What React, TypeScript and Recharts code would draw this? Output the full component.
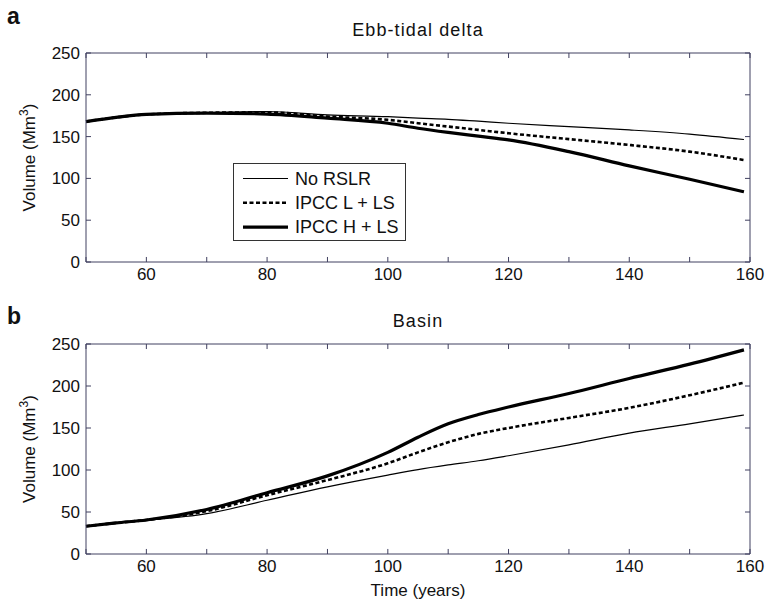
import React from 'react';
import { LineChart, Line, XAxis, YAxis, Legend, ReferenceLine } from 'recharts';

// model years (x) shared by both panels
const years = [50, 55, 60, 70, 80, 90, 100, 105, 110, 115, 120, 130, 140, 150, 159];

// (a) ebb-tidal delta volume, Mm3
const deltaNoRslr = [168, 173, 176.5, 178.5, 180, 176, 173.8, 172, 170.7, 168.4, 166, 162, 158, 153, 146.5];
const deltaIpccL = [168, 173, 176.5, 178.5, 179, 174, 170, 166, 162, 158, 154, 147, 140, 132, 122];
const deltaIpccH = [168, 173, 176.5, 178, 177, 172, 166, 160, 155, 150.5, 146, 132, 115, 99, 84];

// (b) basin volume, Mm3
const basinNoRslr = [33, 37, 40, 48, 64, 80, 94, 100.5, 106, 111, 117, 130, 144, 155, 165.5];
const basinIpccL = [33, 37, 40.5, 51, 70, 88, 108, 121, 133, 143, 150, 162, 174, 189, 204];
const basinIpccH = [33, 37, 40.5, 53, 73, 93, 121, 139, 155, 166, 175, 191, 209, 226, 243];

const seriesNames = ['No RSLR', 'IPCC L + LS', 'IPCC H + LS'];
const xTicks = [50, 60, 70, 80, 90, 100, 110, 120, 130, 140, 150, 160];
const yTicks = [0, 50, 100, 150, 200, 250];
const X_MIN = 50;
const X_MAX = 160;
const Y_MIN = 0;
const Y_MAX = 250;

const FONT = '"Liberation Sans", Arial, Helvetica, sans-serif';
const AXIS = '#404060';
// inward tick length expressed in data units (~5px)
const TICK_X = 0.83;
const TICK_Y = 6;

const lineStyles = [
  { key: 'noRslr', width: 1.2, dash: undefined },
  { key: 'ipccL', width: 2.6, dash: '4 2.5' },
  { key: 'ipccH', width: 3.2, dash: undefined },
];

const makeRows = (a: number[], b: number[], c: number[]) =>
  years.map((year, i) => ({ year, noRslr: a[i], ipccL: b[i], ipccH: c[i] }));

const xLabel = (v: number) => (v % 20 === 0 && v > 50 ? String(v) : '');

const LegendBox = () => (
  <svg width={174} height={79} style={{ display: 'block' }}>
    <rect x={0.5} y={0.5} width={172} height={77} fill="#fff" stroke="#333" />
    {seriesNames.map((name, i) => {
      const cy = 15.5 + i * 24.3;
      return (
        <g key={name}>
          <line
            x1={10}
            x2={55}
            y1={cy}
            y2={cy}
            stroke="#000"
            strokeWidth={lineStyles[i].width}
            strokeDasharray={lineStyles[i].dash}
          />
          <text x={62} y={cy} dominantBaseline="central" fontSize={18} fill="#111" fontFamily={FONT}>
            {name}
          </text>
        </g>
      );
    })}
  </svg>
);

const VolumeLabel = (props: any) => {
  const vb = props.viewBox || {};
  const cx = vb.x - 1;
  const cy = vb.y + vb.height / 2;
  return (
    <text
      x={cx}
      y={cy}
      transform={`rotate(-90 ${cx} ${cy})`}
      textAnchor="middle"
      fontSize={17}
      fill="#111"
    >
      Volume (Mm<tspan dy={-7} fontSize={12}>3</tspan>
      <tspan dy={7}>)</tspan>
    </text>
  );
};

// top and right sides of the box
const frameLines = () => [
  <ReferenceLine key="ft" xAxisId="bottom" yAxisId="left" y={Y_MAX} stroke={AXIS} />,
  <ReferenceLine key="fr" xAxisId="bottom" yAxisId="left" x={X_MAX} stroke={AXIS} />,
];

// inward ticks on all four sides
const tickSegments = () => [
  ...xTicks.map((t) => (
    <ReferenceLine
      key={`xb${t}`}
      xAxisId="bottom"
      yAxisId="left"
      segment={[{ x: t, y: Y_MIN }, { x: t, y: Y_MIN + TICK_Y }]}
      stroke={AXIS}
    />
  )),
  ...xTicks.map((t) => (
    <ReferenceLine
      key={`xt${t}`}
      xAxisId="bottom"
      yAxisId="left"
      segment={[{ x: t, y: Y_MAX }, { x: t, y: Y_MAX - TICK_Y }]}
      stroke={AXIS}
    />
  )),
  ...yTicks.map((t) => (
    <ReferenceLine
      key={`yl${t}`}
      xAxisId="bottom"
      yAxisId="left"
      segment={[{ x: X_MIN, y: t }, { x: X_MIN + TICK_X, y: t }]}
      stroke={AXIS}
    />
  )),
  ...yTicks.map((t) => (
    <ReferenceLine
      key={`yr${t}`}
      xAxisId="bottom"
      yAxisId="left"
      segment={[{ x: X_MAX, y: t }, { x: X_MAX - TICK_X, y: t }]}
      stroke={AXIS}
    />
  )),
];

type PanelProps = {
  letter: string;
  title: string;
  rows: any[];
  top: number;
  height: number;
  marginTop: number;
  marginBottom: number;
  legend?: boolean;
  timeLabel?: boolean;
};

const Panel = ({ letter, title, rows, top, height, marginTop, marginBottom, legend, timeLabel }: PanelProps) => (
  <div style={{ position: 'absolute', left: 0, top, width: 768, height }}>
    <div
      style={{
        position: 'absolute',
        left: 7,
        top: 5,
        fontSize: 23,
        lineHeight: '23px',
        fontWeight: 'bold',
        color: '#111',
      }}
    >
      {letter}
    </div>
    <div
      style={{
        position: 'absolute',
        left: 86,
        width: 664,
        top: marginTop - 33,
        fontSize: 18,
        lineHeight: '20px',
        letterSpacing: 1.1,
        textAlign: 'center',
        color: '#111',
      }}
    >
      {title}
    </div>
    <LineChart
      width={768}
      height={height}
      data={rows}
      margin={{ top: marginTop, right: 18, bottom: marginBottom, left: 36 }}
    >
      <XAxis
        xAxisId="bottom"
        dataKey="year"
        type="number"
        domain={[X_MIN, X_MAX]}
        ticks={xTicks}
        interval={0}
        height={30}
        stroke={AXIS}
        tickLine={false}
        tickFormatter={xLabel}
        tickMargin={0}
        tick={{ fill: '#111', fontSize: 17 }}
        label={timeLabel ? { value: 'Time (years)', position: 'insideBottom', offset: -12, fill: '#111', fontSize: 17 } : undefined}
      />
      <YAxis
        yAxisId="left"
        domain={[Y_MIN, Y_MAX]}
        ticks={yTicks}
        interval={0}
        width={50}
        stroke={AXIS}
        tickLine={false}
        tickMargin={0}
        tick={{ fill: '#111', fontSize: 17 }}
        label={{ content: VolumeLabel }}
      />
      {frameLines()}
      {tickSegments()}
      {lineStyles.map((s, i) => (
        <Line
          key={s.key}
          xAxisId="bottom"
          yAxisId="left"
          dataKey={s.key}
          name={seriesNames[i]}
          type="monotone"
          stroke="#000"
          strokeWidth={s.width}
          strokeDasharray={s.dash}
          dot={false}
          activeDot={false}
          isAnimationActive={false}
        />
      ))}
      {legend && (
        <Legend
          layout="horizontal"
          align="center"
          verticalAlign="middle"
          content={() => <LegendBox />}
          wrapperStyle={{ left: 233, top: 163, width: 174 }}
        />
      )}
    </LineChart>
  </div>
);

export default function App() {
  return (
    <div style={{ position: 'absolute', left: 0, top: 0, width: 768, height: 606, background: '#fff', fontFamily: FONT }}>
      <Panel
        letter="a"
        title="Ebb-tidal delta"
        rows={makeRows(deltaNoRslr, deltaIpccL, deltaIpccH)}
        top={0}
        height={300}
        marginTop={53}
        marginBottom={8}
        legend
      />
      <Panel
        letter="b"
        title="Basin"
        rows={makeRows(basinNoRslr, basinIpccL, basinIpccH)}
        top={300}
        height={306}
        marginTop={44}
        marginBottom={22}
        timeLabel
      />
    </div>
  );
}
